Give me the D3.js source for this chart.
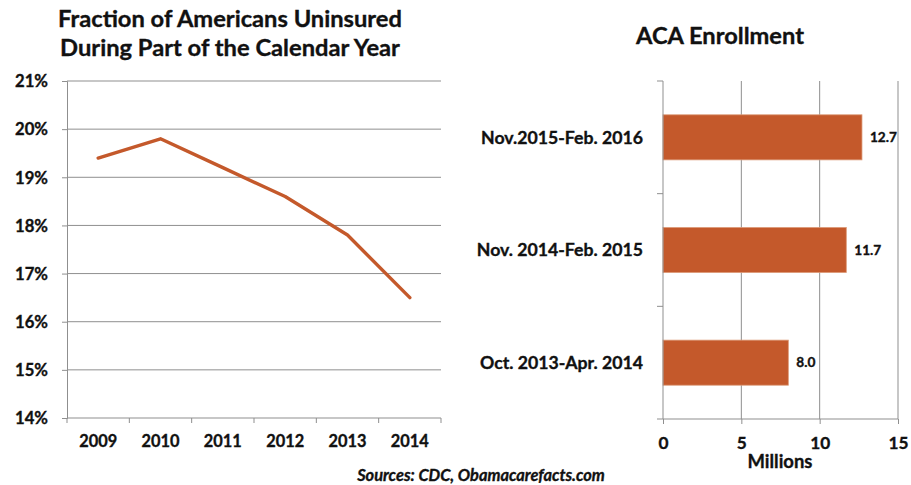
<!DOCTYPE html>
<html>
<head>
<meta charset="utf-8">
<script src="https://cdn.jsdelivr.net/npm/d3@7"></script>
<style>
  html, body { margin: 0; padding: 0; background: #fff; }
  svg text { font-family: "Lato", "Liberation Sans", Arial, sans-serif; font-weight: bold; fill: #111; stroke: #111; stroke-width: 0.35px; }
</style>
</head>
<body>
<svg id="chart" width="911" height="485"></svg>
<script>
// ---- Data ----
const years = ["2009", "2010", "2011", "2012", "2013", "2014"];
const uninsuredPct = [19.4, 19.8, 19.2, 18.6, 17.8, 16.5];
const pctTicks = [14, 15, 16, 17, 18, 19, 20, 21];

const periods = ["Nov.2015-Feb. 2016", "Nov. 2014-Feb. 2015", "Oct. 2013-Apr. 2014"];
const enrollment = [12.7, 11.7, 8.0];
const millionTicks = [0, 5, 10, 15];

const leftTitle = ["Fraction of Americans Uninsured", "During Part of the Calendar Year"];
const rightTitle = "ACA Enrollment";
const xTitleRight = "Millions";
const sourceText = "Sources: CDC, Obamacarefacts.com";

// ---- Styles ----
const orange = "#C4592B";
const gridColor = "#8f8f8f";

const svg = d3.select("#chart");

// helper: font size so that `str` is `target` px wide
function sizeFor(str, target, italic) {
  const t = svg.append("text").style("font-size", "20px").style("font-style", italic ? "italic" : "normal").text(str);
  const w = t.node().getComputedTextLength();
  t.remove();
  return (20 * target / w).toFixed(2) + "px";
}

const fsYL = sizeFor("21%", 33);
const fsXL = sizeFor("2009", 38);
const fsCat = sizeFor("Nov.2015-Feb. 2016", 162);
const fsXR = sizeFor("10", 20);
const fsVal = sizeFor("12.7", 27);
const fsMil = sizeFor("Millions", 65);

// ================= LEFT CHART =================
const L = { x0: 67, x1: 441, y0: 81, y1: 418 };
const xL = d3.scaleBand().domain(years).range([L.x0, L.x1]);
const yL = d3.scaleLinear().domain([14, 21]).range([L.y1, L.y0]);

const gL = svg.append("g");

gL.append("g").selectAll("line").data(pctTicks.filter(d => d > 14)).join("line")
  .attr("x1", L.x0).attr("x2", L.x1)
  .attr("y1", d => yL(d)).attr("y2", d => yL(d))
  .attr("stroke", gridColor).attr("stroke-width", 1);

const yAxisL = d3.axisLeft(yL).tickValues(pctTicks).tickSize(5).tickFormat(d => d + "%");
const gyL = gL.append("g").attr("transform", `translate(${L.x0},0)`).call(yAxisL);
gyL.select(".domain").attr("stroke", gridColor);
gyL.selectAll(".tick line").attr("stroke", gridColor);
gyL.selectAll(".tick text").attr("x", -19).attr("dy", "0.35em")
  .attr("font-family", null).attr("font-size", null)
  .style("font-size", fsYL);

const gxL = gL.append("g").attr("transform", `translate(0,${L.y1})`)
  .call(d3.axisBottom(xL).tickSize(0).tickPadding(0));
gxL.select(".domain").attr("stroke", gridColor).attr("d", `M${L.x0},0H${L.x1}`);
gxL.selectAll(".tick text").attr("y", 23).attr("dy", "0.35em")
  .attr("font-family", null).attr("font-size", null)
  .style("font-size", fsXL);
const bounds = years.map(d => xL(d)).concat([L.x1]);
gxL.append("g").selectAll("line").data(bounds).join("line")
  .attr("x1", d => d).attr("x2", d => d).attr("y1", 0).attr("y2", 5)
  .attr("stroke", gridColor);

const line = d3.line()
  .x((d, i) => xL(years[i]) + xL.bandwidth() / 2)
  .y(d => yL(d));
gL.append("path").datum(uninsuredPct)
  .attr("d", line).attr("fill", "none")
  .attr("stroke", orange).attr("stroke-width", 3.4)
  .attr("stroke-linejoin", "round").attr("stroke-linecap", "round");

gL.append("text").attr("x", 230).attr("y", 27).attr("text-anchor", "middle")
  .style("font-size", sizeFor(leftTitle[0], 344)).text(leftTitle[0]);
gL.append("text").attr("x", 230).attr("y", 56).attr("text-anchor", "middle")
  .style("font-size", sizeFor(leftTitle[1], 340)).text(leftTitle[1]);

// ================= RIGHT CHART =================
const R = { x0: 663, x1: 898, y0: 81, y1: 419 };
const xR = d3.scaleLinear().domain([0, 15]).range([R.x0, R.x1]);
const yR = d3.scaleBand().domain(periods).range([R.y0, R.y1]).paddingInner(0.6).paddingOuter(0.3);

const gR = svg.append("g");

gR.append("g").selectAll("line").data(millionTicks.filter(d => d > 0)).join("line")
  .attr("x1", d => xR(d)).attr("x2", d => xR(d))
  .attr("y1", R.y0).attr("y2", R.y1)
  .attr("stroke", gridColor);

gR.append("g").selectAll("rect").data(enrollment).join("rect")
  .attr("x", xR(0))
  .attr("y", (d, i) => yR(periods[i]))
  .attr("width", d => xR(d) - xR(0))
  .attr("height", yR.bandwidth())
  .attr("fill", orange)
  .attr("stroke", "#dc9a78").attr("stroke-width", 0.8);

gR.append("g").selectAll("text").data(enrollment).join("text")
  .attr("x", d => xR(d) + 8)
  .attr("y", (d, i) => yR(periods[i]) + yR.bandwidth() / 2)
  .attr("dy", "0.35em")
  .style("font-size", fsVal)
  .text(d => d.toFixed(1));

gR.append("line").attr("x1", R.x0).attr("x2", R.x0).attr("y1", R.y0).attr("y2", R.y1)
  .attr("stroke", gridColor);
const step = yR.step();
const catBounds = [R.y0].concat(periods.map(p => yR(p) - yR.paddingInner() * step / 2 + step)).slice(0, 3);
gR.append("g").selectAll("line").data(catBounds).join("line")
  .attr("x1", R.x0 - 6).attr("x2", R.x0).attr("y1", d => d).attr("y2", d => d)
  .attr("stroke", gridColor);
gR.append("g").selectAll("text").data(periods).join("text")
  .attr("x", 643)
  .attr("y", d => yR(d) + yR.bandwidth() / 2)
  .attr("dy", "0.35em").attr("text-anchor", "end")
  .style("font-size", fsCat)
  .text(d => d);

const gxR = gR.append("g").attr("transform", `translate(0,${R.y1})`)
  .call(d3.axisBottom(xR).tickValues(millionTicks).tickSize(5).tickPadding(0));
gxR.select(".domain").attr("stroke", gridColor).attr("d", `M${R.x0 - 6},0H${R.x1}`);
gxR.selectAll(".tick line").attr("stroke", gridColor);
gxR.selectAll(".tick text").attr("y", 24).attr("dy", "0.35em")
  .attr("font-family", null).attr("font-size", null)
  .style("font-size", fsXR);

gR.append("text").attr("x", 780).attr("y", 468).attr("text-anchor", "middle")
  .style("font-size", fsMil).text(xTitleRight);

gR.append("text").attr("x", 720).attr("y", 44).attr("text-anchor", "middle")
  .style("font-size", sizeFor(rightTitle, 168)).text(rightTitle);

svg.append("text").attr("x", 481).attr("y", 481).attr("text-anchor", "middle")
  .style("font-style", "italic")
  .style("font-size", sizeFor(sourceText, 248, true)).text(sourceText);
</script>
</body>
</html>
